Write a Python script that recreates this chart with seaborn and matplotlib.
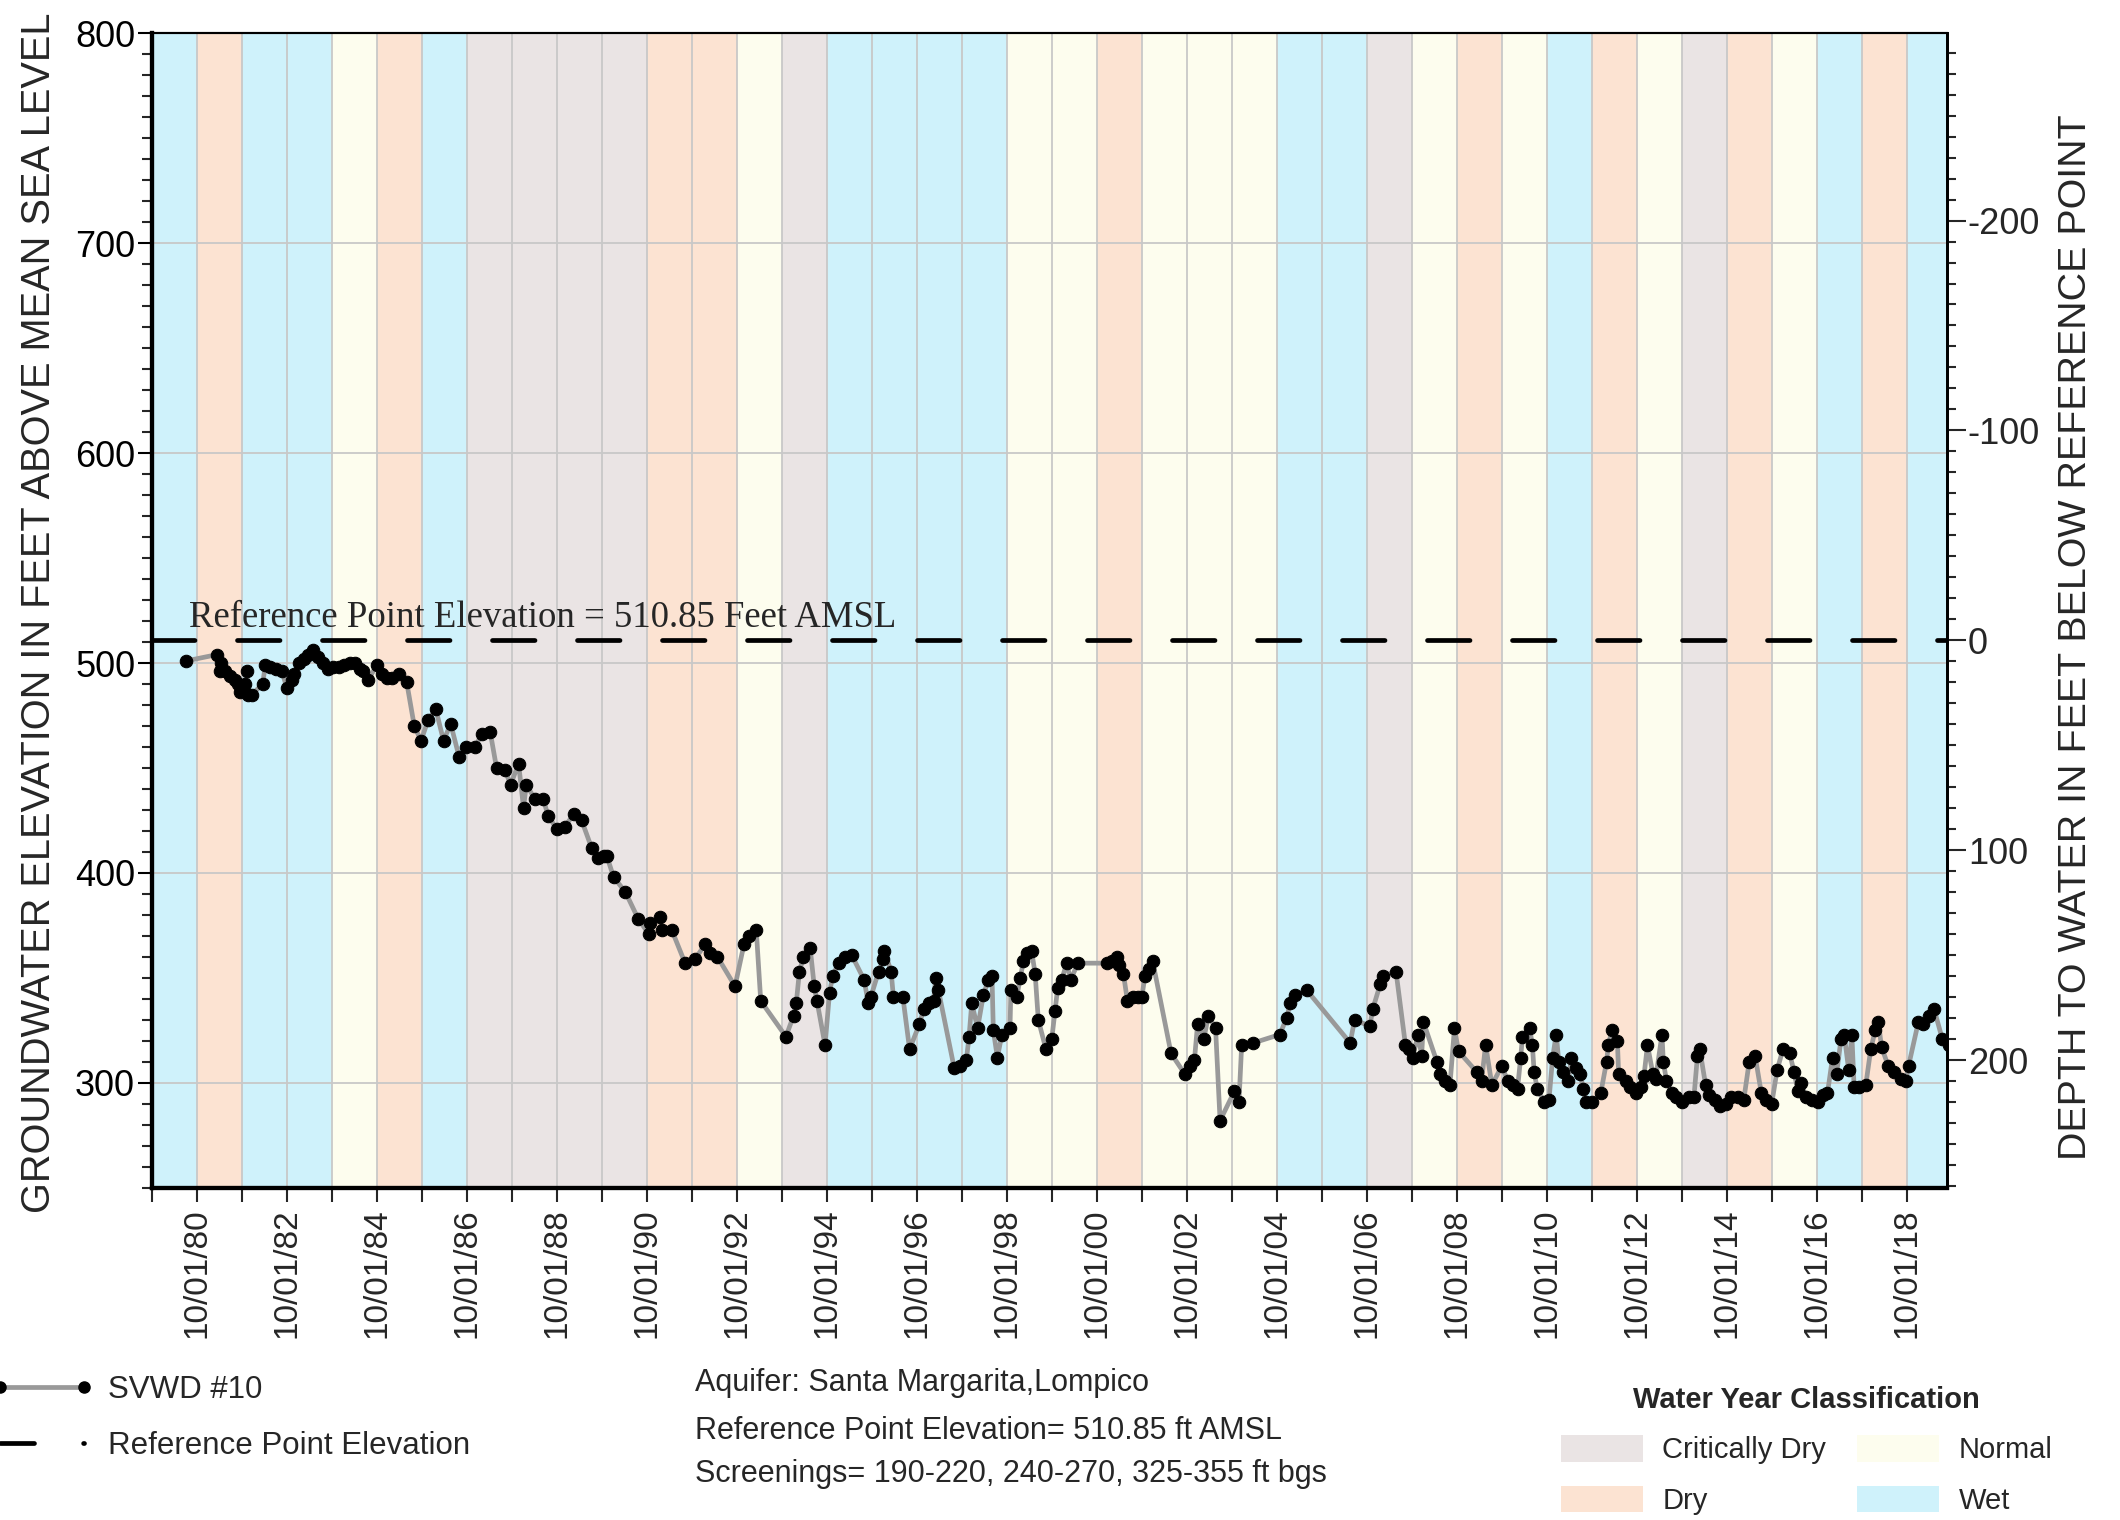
import numpy as np
import pandas as pd
import matplotlib
matplotlib.use("Agg")
import matplotlib.pyplot as plt
import matplotlib.dates as mdates
from matplotlib.ticker import MultipleLocator
from matplotlib.lines import Line2D
from matplotlib.patches import Patch
import seaborn as sns

REF_ELEV = 510.85

# water year classification (WY runs 10/01 of previous year to 09/30)
water_years = list(range(1980, 2020))
wy_class = ["Wet", "Dry", "Wet", "Wet", "Normal", "Dry", "Wet",
            "Critically Dry", "Critically Dry", "Critically Dry", "Critically Dry",
            "Dry", "Dry", "Normal", "Critically Dry", "Wet", "Wet", "Wet", "Wet",
            "Normal", "Normal", "Dry", "Normal", "Normal", "Normal", "Wet", "Wet",
            "Critically Dry", "Normal", "Dry", "Normal", "Wet", "Dry", "Normal",
            "Critically Dry", "Dry", "Normal", "Wet", "Dry", "Wet"]
class_names = ["Critically Dry", "Dry", "Normal", "Wet"]
class_colors = ["#eae4e4", "#fce3d2", "#fdfdee", "#cff2fb"]

# SVWD #10 measurements: decimal year, groundwater elevation (ft AMSL)
sample_year = [
    1980.51, 1981.19, 1981.27, 1981.29, 1981.38, 1981.49, 1981.60, 1981.67, 1981.71, 1981.82,
    1981.86, 1981.89, 1981.97, 1982.21, 1982.27, 1982.38, 1982.51, 1982.64, 1982.75, 1982.86,
    1982.91, 1983.01, 1983.12, 1983.23, 1983.34, 1983.45, 1983.56, 1983.67, 1983.78, 1983.90,
    1984.01, 1984.15, 1984.27, 1984.38, 1984.45, 1984.56, 1984.75, 1984.86, 1984.97, 1985.08,
    1985.23, 1985.41, 1985.58, 1985.73, 1985.89, 1986.06, 1986.23, 1986.39, 1986.58, 1986.73,
    1986.93, 1987.08, 1987.27, 1987.41, 1987.60, 1987.72, 1987.90, 1988.01, 1988.07, 1988.27,
    1988.45, 1988.56, 1988.75, 1988.93, 1989.12, 1989.30, 1989.52, 1989.67,
    1989.79, 1989.86, 1990.01, 1990.27, 1990.56, 1990.79, 1990.82, 1991.05, 1991.08, 1991.30,
    1991.60, 1991.82, 1992.05, 1992.16, 1992.32, 1992.71, 1992.91, 1993.03, 1993.18, 1993.28,
    1993.84, 1994.01, 1994.07, 1994.14, 1994.23, 1994.38, 1994.47, 1994.53, 1994.71, 1994.81,
    1994.88, 1995.01, 1995.16, 1995.30, 1995.58, 1995.67, 1995.73, 1995.90, 1996.01, 1996.03,
    1996.18, 1996.23, 1996.44, 1996.59, 1996.81, 1996.90, 1997.01, 1997.12, 1997.17, 1997.23,
    1997.58, 1997.70, 1997.85, 1997.91, 1997.97, 1998.10, 1998.23, 1998.34, 1998.42, 1998.45,
    1998.54, 1998.64, 1998.82, 1998.84, 1998.97, 1999.05, 1999.12, 1999.19, 1999.30, 1999.38,
    1999.45, 1999.62,
    1999.75, 1999.82, 1999.88, 1999.97, 2000.08, 2000.17, 2000.33, 2000.97, 2001.08, 2001.19,
    2001.24, 2001.34, 2001.43, 2001.56, 2001.67, 2001.75, 2001.82, 2001.90, 2001.99, 2002.40,
    2002.71, 2002.81, 2002.92, 2002.99, 2003.13, 2003.23, 2003.39, 2003.49, 2003.81, 2003.91,
    2003.97, 2004.23, 2004.82, 2004.97, 2005.05, 2005.16, 2005.42, 2006.38, 2006.48, 2006.82,
    2006.88, 2007.05, 2007.12, 2007.40, 2007.61, 2007.68, 2007.77, 2007.89, 2007.97, 2008.01,
    2008.31, 2008.38, 2008.49, 2008.60, 2008.70, 2008.79, 2009.20, 2009.30, 2009.39, 2009.53,
    2009.75,
    2009.88, 2009.99, 2010.10, 2010.17, 2010.21, 2010.37, 2010.43, 2010.47, 2010.54, 2010.69,
    2010.80, 2010.88, 2010.96, 2011.02, 2011.11, 2011.23, 2011.30, 2011.39, 2011.50, 2011.56,
    2011.62, 2011.75, 2011.95, 2012.08, 2012.12, 2012.20, 2012.32, 2012.35, 2012.51, 2012.60,
    2012.74, 2012.84, 2012.91, 2012.99, 2013.11, 2013.17, 2013.31, 2013.34, 2013.41, 2013.53,
    2013.63, 2013.76, 2013.90, 2014.02, 2014.10, 2014.15, 2014.28, 2014.36, 2014.48, 2014.59,
    2014.73, 2014.85, 2014.99, 2015.13, 2015.25, 2015.38, 2015.52, 2015.62, 2015.75, 2015.87,
    2016.00, 2016.15, 2016.25, 2016.33, 2016.40, 2016.52, 2016.64, 2016.77, 2016.88, 2016.99,
    2017.10, 2017.19, 2017.29, 2017.36, 2017.46, 2017.53, 2017.58, 2017.69, 2017.84, 2017.95,
    2018.05, 2018.12, 2018.19, 2018.34, 2018.47, 2018.62, 2018.73, 2018.79, 2019.01, 2019.12,
    2019.25, 2019.36, 2019.54, 2019.68,
]
gw_elev = [
    501, 504, 496, 500, 496, 494, 492, 490, 486, 490,
    496, 485, 485, 490, 499, 498, 497, 496, 488, 492,
    495, 500, 502, 504, 506, 503, 500, 497, 498, 498,
    499, 500, 500, 497, 496, 492, 499, 495, 493, 493,
    495, 491, 470, 463, 473, 478, 463, 471, 455, 460,
    460, 466, 467, 450, 449, 442, 452, 431, 442, 435,
    435, 427, 421, 422, 428, 425, 412, 407,
    408, 408, 398, 391, 378, 371, 376, 379, 373, 373,
    357, 359, 366, 362, 360, 346, 366, 370, 373, 339,
    322, 332, 338, 353, 360, 364, 346, 339, 318, 343,
    351, 357, 360, 361, 349, 338, 341, 353, 359, 363,
    353, 341, 341, 316, 328, 335, 338, 339, 350, 344,
    307, 308, 311, 322, 338, 326, 342, 349, 351, 325,
    312, 323, 326, 344, 341, 350, 358, 362, 363, 352,
    330, 316,
    321, 334, 345, 349, 357, 349, 357, 357, 358, 360,
    356, 352, 339, 341, 341, 341, 351, 354, 358, 314,
    304, 308, 311, 328, 321, 332, 326, 282, 296, 291,
    318, 319, 323, 331, 338, 342, 344, 319, 330, 327,
    335, 347, 351, 353, 318, 316, 312, 323, 313, 329,
    310, 304, 301, 299, 326, 315, 305, 301, 318, 299,
    308,
    301, 299, 297, 312, 322, 326, 318, 305, 297, 291,
    292, 312, 323, 310, 305, 301, 312, 307, 304, 297,
    291, 291, 295, 310, 318, 325, 320, 304, 301, 298,
    295, 298, 303, 318, 304, 302, 323, 310, 301, 295,
    293, 291, 293, 293, 313, 316, 299, 294, 292, 289,
    290, 293, 293, 292, 310, 313, 295, 292, 290, 306,
    316, 314, 305, 296, 300, 293, 292, 291, 294, 295,
    312, 304, 321, 323, 306, 323, 298, 298, 299, 316,
    325, 329, 317, 308, 305, 302, 301, 308, 329, 328,
    332, 335, 321, 318,
]


def to_date(y):
    yr = int(y)
    return pd.Timestamp(yr, 1, 1) + pd.Timedelta(days=(y - yr) * 365.25)


df = pd.DataFrame({"date": [to_date(y) for y in sample_year], "elev": gw_elev})

sns.set_theme(style="ticks")
plt.rcParams["font.family"] = ["Liberation Sans", "DejaVu Sans"]
plt.rcParams["axes.unicode_minus"] = False

fig = plt.figure(figsize=(21.2, 15.2), dpi=100)
ax = fig.add_axes([0.0716, 0.2186, 0.8468, 0.7594])

# water year background bands
color_of = dict(zip(class_names, class_colors))
for wy, cls in zip(water_years, wy_class):
    ax.axvspan(pd.Timestamp(wy - 1, 10, 1), pd.Timestamp(wy, 10, 1),
               color=color_of[cls], lw=0, zorder=0)

ax.axhline(REF_ELEV, color="black", lw=3.4, ls=(0, (9, 9)),
           dash_capstyle="round", zorder=2)

sns.lineplot(data=df, x="date", y="elev", ax=ax, color="#999999", lw=3.4,
             marker="o", markersize=9, markerfacecolor="black",
             markeredgecolor="black", zorder=3, legend=False)

ax.text(to_date(1980.58), 513.5, "Reference Point Elevation = 510.85 Feet AMSL",
        family=["Liberation Serif", "DejaVu Serif"], fontsize=26.5, va="bottom", zorder=4)

ax.set_xlim(pd.Timestamp(1979, 10, 1), pd.Timestamp(2019, 8, 25))
ax.set_ylim(250, 800)
ax.yaxis.set_major_locator(MultipleLocator(100))
ax.yaxis.set_minor_locator(MultipleLocator(10))
ax.xaxis.set_major_locator(mdates.YearLocator(2, month=10, day=1))
ax.xaxis.set_minor_locator(mdates.YearLocator(1, month=10, day=1))
ax.xaxis.set_major_formatter(mdates.DateFormatter("%m/%d/%y"))

ax.set_axisbelow(True)
ax.grid(True, axis="x", which="both", color="#c8c8c8", lw=1.3)
ax.grid(True, axis="y", which="major", color="#c8c8c8", lw=1.3)

ax.tick_params(axis="y", which="major", length=10, width=1.5, labelsize=26, pad=2, colors="black")
ax.tick_params(axis="y", which="minor", length=7, width=1.5, left=True)
ax.tick_params(axis="x", which="both", length=10, width=1.5, bottom=True, pad=5)
for lab in ax.get_xticklabels():
    lab.set_rotation(90)
    lab.set_fontsize(24)

ax.set_xlabel("")
ax.set_ylabel("GROUNDWATER ELEVATION IN FEET ABOVE MEAN SEA LEVEL", fontsize=28.6)
ax.yaxis.set_label_coords(-0.052, 0.498)

# depth to water axis
ax2 = ax.twinx()
ax2.set_ylim(REF_ELEV - 250, REF_ELEV - 800)
ax2.yaxis.set_major_locator(MultipleLocator(100))
ax2.yaxis.set_minor_locator(MultipleLocator(10))
ax2.tick_params(axis="y", which="major", length=14, width=1.5, labelsize=26, pad=1)
ax2.tick_params(axis="y", which="minor", length=6.5, width=1.5, right=True)
ax2.set_ylabel("DEPTH TO WATER IN FEET BELOW REFERENCE POINT", fontsize=28.4)
ax2.yaxis.set_label_coords(1.0618, 0.477)

for a in (ax, ax2):
    for side, w in (("left", 3), ("bottom", 3), ("right", 2), ("top", 1.5)):
        a.spines[side].set_linewidth(w)
        a.spines[side].set_color("black")

# series legend
series_handles = [
    Line2D([], [], color="#999999", lw=3.4, marker="o", ms=8,
           mfc="black", mec="black"),
    Line2D([], [], color="black", lw=3.4, ls=(0, (7.2, 10.4)), dash_capstyle="round"),
]
fig.legend(series_handles, ["SVWD #10", "Reference Point Elevation"],
           loc="upper left", bbox_to_anchor=(-0.0044, 0.0955), frameon=False,
           fontsize=22.5, numpoints=2, handlelength=3.29, handletextpad=0.47,
           labelspacing=0.84, borderpad=0, borderaxespad=0)

info = ["Aquifer: Santa Margarita,Lompico",
        "Reference Point Elevation= 510.85 ft AMSL",
        "Screenings= 190-220, 240-270, 325-355 ft bgs"]
for txt, yy in zip(info, [0.090, 0.0587, 0.030]):
    fig.text(0.328, yy, txt, fontsize=22, va="center", ha="left")

# water year legend
class_handles = [Patch(facecolor=c, edgecolor="none") for c in class_colors]
fig.legend(class_handles, class_names, loc="upper left",
           bbox_to_anchor=(0.7363, 0.0884), ncol=2, frameon=False,
           fontsize=21, title="Water Year Classification",
           title_fontproperties={"weight": "bold", "size": 21},
           handlelength=2.8, handleheight=1.03, handletextpad=0.68,
           columnspacing=1.06, labelspacing=0.735, borderpad=0,
           borderaxespad=0)

fig.savefig("out.png", dpi=100)
